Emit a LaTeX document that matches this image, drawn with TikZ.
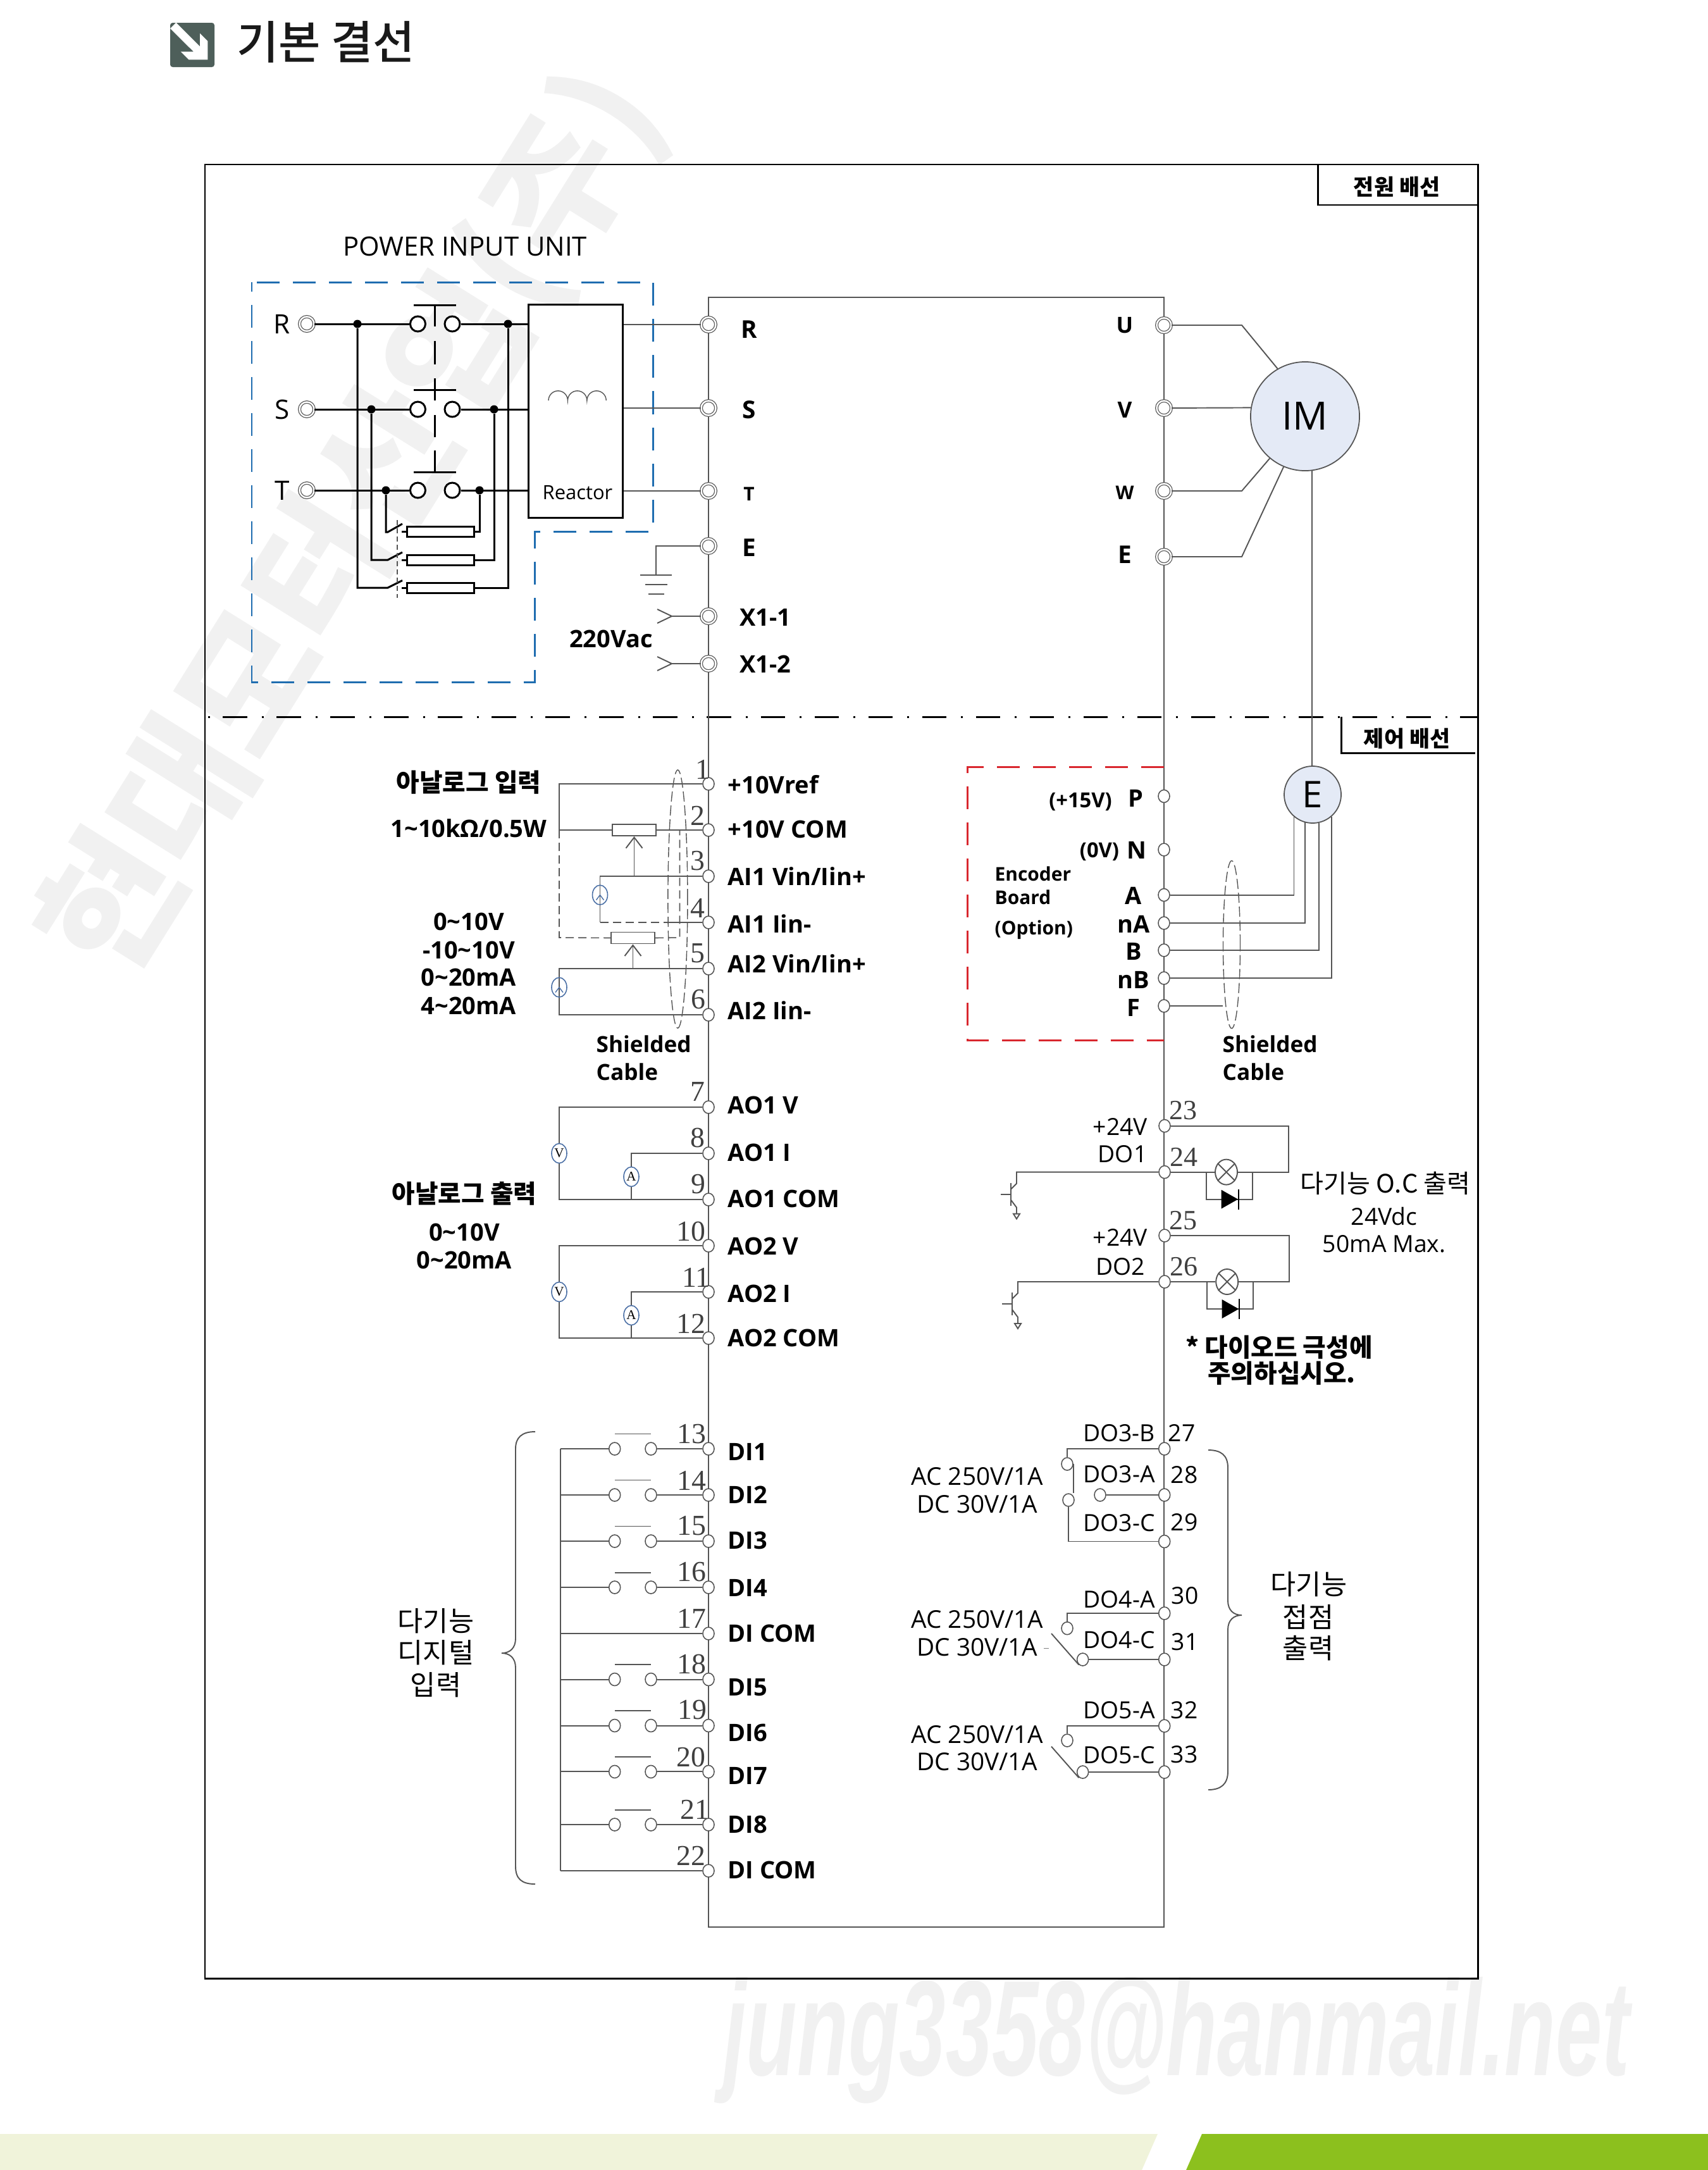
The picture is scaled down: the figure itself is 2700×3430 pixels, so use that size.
\documentclass[tikz,border=0pt]{standalone}
\usepackage{fontspec}
\usepackage{xcolor}
\usepackage{tikz}
\usetikzlibrary{shapes.geometric,arrows.meta}
\setmainfont{Open Sans}
\newfontfamily\kor{Noto Sans CJK KR}
\newfontfamily\korm{Noto Sans CJK KR Medium}
\newfontfamily\numf{Liberation Serif}
\newfontfamily\wmf{Liberation Sans}
\newcommand{\tld}{\textasciitilde}
\definecolor{wirec}{HTML}{555555}
\definecolor{bluel}{HTML}{1F6DB0}
\definecolor{redl}{HTML}{D9272E}
\definecolor{motorc}{HTML}{E4EAF6}
\definecolor{srcc}{HTML}{4A6FA5}
\definecolor{bandl}{HTML}{F0F3DA}
\definecolor{bandg}{HTML}{8CC01E}
\definecolor{iconc}{HTML}{4E5F5A}
\definecolor{wmc}{HTML}{F1F1F1}
\tikzset{
  wire/.style={draw=wirec,line width=.55pt},
  pwr/.style={draw=black,line width=.85pt},
  term/.style={ellipse,draw=wirec,line width=.45pt,fill=white,inner sep=0,minimum width=.18cm,minimum height=.2cm},
  ring/.style={circle,draw=wirec,line width=.35pt,double=white,double distance=.7pt,fill=white,inner sep=0,minimum size=.23cm},
  cnt/.style={ellipse,draw=wirec,line width=.45pt,fill=white,inner sep=0,minimum width=.18cm,minimum height=.2cm},
  swc/.style={circle,draw=black,line width=.85pt,fill=white,inner sep=0,minimum size=.24cm},
  jdot/.style={circle,fill=black,inner sep=0,minimum size=.13cm},
  fuse/.style={rectangle,pwr,fill=white,inner sep=0,minimum width=1.05cm,minimum height=.16cm},
  pot/.style={rectangle,wire,fill=white,inner sep=0,minimum width=.69cm,minimum height=.18cm},
  meter/.style={ellipse,draw=srcc,line width=.45pt,fill=white,inner sep=0,minimum width=.24cm,minimum height=.31cm,font=\numf\fontsize{6}{7}\selectfont},
  source/.style={ellipse,draw=srcc,line width=.45pt,inner sep=0,minimum width=.24cm,minimum height=.31cm},
  shield/.style={ellipse,draw=wirec,line width=.4pt,dash pattern=on .16cm off .06cm,inner sep=0},
  thindash/.style={draw=wirec,line width=.45pt,dash pattern=on .13cm off .07cm},
  lab/.style={font=\bfseries\fontsize{10.8}{12}\selectfont,inner sep=0},
  shlab/.style={font=\bfseries\fontsize{10}{12}\selectfont,inner sep=0},
  smalllab/.style={font=\bfseries\fontsize{8.5}{10}\selectfont,inner sep=0},
  reg/.style={font=\fontsize{10.6}{12}\selectfont,inner sep=0},
  num/.style={font=\numf\fontsize{13}{14}\selectfont,text=black!75,inner sep=0},
  kord/.style={font=\kor\fontsize{12.4}{14}\selectfont,inner sep=0},
  korb/.style={font=\kor\bfseries\fontsize{11.3}{13}\selectfont,inner sep=0},
  zonedash/.style={line width=.85pt,dash pattern=on .36cm off .21cm},
}
\begin{document}
\begin{tikzpicture}[x=.01cm,y=-.01cm]
    \useasboundingbox (0,0) rectangle (2700,3430);

    % Watermarks and footer band
    \node[rotate=58,text=wmc,font=\kor\bfseries\fontsize{64}{74}\selectfont,inner sep=0] (wmark) at (560,830) {현대모터산업(주)};
    \node[xscale=.615,text=wmc,font=\wmf\bfseries\itshape\fontsize{61}{70}\selectfont,inner sep=0] (wmail) at (1860,3225) {jung3358@hanmail.net};
    \fill[bandl] (0,3373) -- (1830,3373) -- (1805,3430) -- (0,3430) -- cycle;
    \fill[bandg] (1900,3373) -- (2700,3373) -- (2700,3430) -- (1875,3430) -- cycle;

    % Title
    \fill[iconc,rounded corners=.04cm] (269,36) rectangle (339,106);
    \fill[white] (269,45) -- (278.3,35.7) -- (316,73.3) -- (316,52.7) -- (328.3,65) -- (328.3,94.3) -- (298.3,94.3) -- (285.7,81.7) -- (306,81.7) -- cycle;
    \node[font=\korm\fontsize{20.5}{23}\selectfont,text=black!90,inner sep=0] (title) at (515,66) {기본 결선};

    % Frame and divider
    \draw[pwr] (324,260) rectangle (2336,3127);
    \draw[pwr] (2083,260) -- (2083,324) -- (2336,324);
    \node[font=\kor\bfseries\fontsize{9.9}{11}\selectfont,inner sep=0] (boxp) at (2208,295) {전원 배선};
    \draw[pwr,dash pattern=on .385cm off .23cm on .03cm off .205cm,dash phase=.57cm] (324,1133) -- (2336,1133);
    \draw[pwr] (2120,1133) -- (2120,1190) -- (2332,1190);
    \node[font=\kor\bfseries\fontsize{9.9}{11}\selectfont,inner sep=0] (boxc) at (2224,1167) {제어 배선};

    % Drive body
    \draw[wire] (1120,470) rectangle (1840,3046);

    % Power input unit
    \node[font=\fontsize{11.9}{14}\selectfont,inner sep=0] (pwrt) at (735,390) {POWER INPUT UNIT};
    \draw[bluel,zonedash] (406,446) -- (1032,446) -- (1032,840) -- (845,840) -- (845,1078) -- (398,1078) -- (398,446);
    \node[rectangle,pwr,inner sep=0,minimum width=1.48cm,minimum height=3.36cm] (reactor) at (910,650) {};
    \node[font=\fontsize{8.8}{10}\selectfont,inner sep=0] (reactl) at (913,779) {Reactor};
    \draw[wire,line width=.4pt] (867,633) arc[start angle=180,end angle=0,radius=.152cm] arc[start angle=180,end angle=0,radius=.152cm] arc[start angle=180,end angle=0,radius=.152cm];

    % Input lines, contactor and branch fuses
    \foreach \n/\y/\a/\b/\yb/\fy/\sy in {R/512/565/803/929/929.5/917.5, S/647/587/781/885/885/873, T/775/610/758/841/840/828}{
        \node[ring] (p\n) at (485,\y) {};
        \node[font=\fontsize{12}{14}\selectfont,inner sep=0] (pl\n) at (446,\y) {\n};
        \node[swc] (sa\n) at (660.5,\y) {};
        \node[swc] (sb\n) at (715,\y) {};
        \node[jdot] (dl\n) at (\a,\y) {};
        \node[jdot] (dr\n) at (\b,\y) {};
        \draw[pwr] (p\n) -- (sa\n);
        \draw[pwr] (sb\n) -- (sb\n -| reactor.west);
        \node[fuse] (fu\n) at (696.5,\fy) {};
        \coordinate (q\n) at (613,\yb);
        \draw[pwr] (dl\n) |- (q\n) -- (636,\sy);
        \draw[pwr] (fu\n.west) -- ++(-7,0);
        \draw[pwr] (fu\n.east) -| (dr\n);
    }
    \draw[draw=wirec,line width=.35pt,dash pattern=on .08cm off .05cm] (628,822) -- (628,945);
    \draw[pwr] (654,482) -- (721,482);
    \draw[pwr] (654,616.5) -- (721,616.5);
    \draw[pwr] (654,746) -- (721,746);
    \draw[pwr] (687.5,482) -- (687.5,516);
    \draw[pwr] (687.5,539) -- (687.5,576);
    \draw[pwr] (687.5,598) -- (687.5,633);
    \draw[pwr] (687.5,656) -- (687.5,691);
    \draw[pwr] (687.5,712) -- (687.5,746);

    % Drive power terminals
    \foreach \n/\y/\ly/\lbl/\sz in {R/513/521/R/11, S/645/648/S/11, T/776/781/T/8.5, E/863/866/E/11}{
        \node[ring] (tp\n) at (1120,\y) {};
        \node[font=\bfseries\fontsize{\sz}{13}\selectfont,inner sep=0] (lp\n) at (1184,\ly) {\lbl};
    }
    \foreach \n/\y/\ly/\lbl in {Xa/974/976/X1-1, Xb/1049/1050/X1-2}{
        \node[ring] (tp\n) at (1120,\y) {};
        \node[lab] (lp\n) at (1210,\ly) {\lbl};
        \coordinate (ch\n) at (1062,\y);
        \draw[wire] (tp\n) -- (ch\n);
        \draw[wire] (ch\n) ++(-23,-11) -- (ch\n) -- ++(-23,11);
    }
    \node[lab] (vac) at (966,1010) {220Vac};
    \foreach \n in {R,S,T}{
        \draw[wire] (tp\n) -- (tp\n -| reactor.east);
    }
    \coordinate (gnd) at (1037,909);
    \draw[wire] (tpE) -| (gnd);
    \draw[wire] (gnd) ++(-25,0) -- ++(50,0);
    \draw[wire] (gnd) ++(-17,15) -- ++(35,0);
    \draw[wire] (gnd) ++(-12,30) -- ++(25,0);

    % Motor
    \node[circle,draw=wirec,line width=.5pt,fill=motorc,inner sep=0,minimum size=1.72cm,font=\fontsize{17.5}{19}\selectfont] (im) at (2063,658) {IM};
    \coordinate (bend) at (1963,0);
    \foreach \n/\y/\ly/\lbl/\sz/\an in {U/514/514/U/10/120, V/645/648/V/10/171, W/776/779/W/8.5/-130, Em/880/877/E/11/-113}{
        \node[ring] (to\n) at (1840,\y) {};
        \node[font=\bfseries\fontsize{\sz}{13}\selectfont,inner sep=0] (lo\n) at (1778,\ly) {\lbl};
    }
    \draw[wire] (toU) -- (toU -| bend) -- (im.120);
    \draw[wire] (toV) -- (im.171);
    \draw[wire] (toW) -- (toW -| bend) -- (im.-130);
    \draw[wire] (toEm) -- (toEm -| bend) -- (im.-113);

    % Left control terminals
    \foreach \n/\y/\ly/\lbl/\nx/\ny in {1/1239/1240/+10Vref/1111/1216, 2/1312/1311/+10V COM/1103/1289, 3/1385/1385/{AI1 Vin/Iin+}/1103/1361, 4/1458/1460/AI1 Iin-/1103/1435, 5/1531/1523/{AI2 Vin/Iin+}/1103/1507, 6/1604/1597/AI2 Iin-/1104/1580, 7/1750/1747/AO1 V/1103/1726, 8/1823/1822/AO1 I/1103/1798, 9/1896/1895/AO1 COM/1104/1872, 10/1969/1970/AO2 V/1092/1946, 11/2042/2045/AO2 I/1100/2019, 12/2115/2115/AO2 COM/1092/2092, 13/2290/2295/DI1/1093/2267, 14/2363/2363/DI2/1093/2340, 15/2436/2435/DI3/1093/2412, 16/2509/2510/DI4/1093/2485, 17/2582/2582/DI COM/1093/2558, 18/2654.5/2667/DI5/1093/2630, 19/2727.5/2739/DI6/1094/2703, 20/2800.4/2807/DI7/1092/2777, 21/2884/2884/DI8/1098/2860, 22/2957/2956/DI COM/1092/2933}{
        \node[term] (t\n) at (1120,\y) {};
        \node[lab,anchor=west] (l\n) at (1150,\ly) {\lbl};
        \node[num] (n\n) at (\nx,\ny) {\n};
    }

    % Analog input wiring
    \coordinate (ailft) at (884,1239);
    \coordinate (aidsh) at (884,1482);
    \coordinate (airgt) at (1074.5,1482);
    \coordinate (aisrc) at (948.5,1385);
    \node[pot] (pota) at (1002.5,1312) {};
    \node[pot] (potb) at (1000.5,1482.5) {};
    \draw[wire] (t1) -- (ailft) |- (pota.west);
    \draw[wire] (pota.east) -- (t2);
    \draw[thindash] (ailft |- pota) -- (aidsh) -- (potb.west);
    \draw[thindash] (potb.east) -- (airgt) -- (airgt |- pota);
    \draw[wire,-{Straight Barb[length=.17cm,width=.26cm]}] (pota |- t3) -- (pota.south);
    \draw[wire,-{Straight Barb[length=.17cm,width=.26cm]}] (potb |- t5) -- (potb.south);
    \draw[wire] (t3) -- (aisrc) -- (aisrc |- t4);
    \draw[thindash] (aisrc |- t4) -- (1060,1458);
    \draw[wire] (1060,1458) -- (t4);
    \node[source] (srca) at (948.5,1414.6) {};
    \draw[srcc,line width=.4pt] (srca.center) ++(-6,8) -- (srca.center) -- ++(6,8);
    \coordinate (ailb) at (884,1531);
    \draw[wire] (t5) -- (ailb) |- (t6);
    \node[source] (srcb) at (884,1560.6) {};
    \draw[srcc,line width=.4pt] (srcb.center) ++(-6,8) -- (srcb.center) -- ++(6,8);
    \node[shield,minimum width=.31cm,minimum height=4.08cm] (shla) at (1071.4,1421) {};

    \node[korb] (ainh) at (741,1237) {아날로그 입력};
    \node[lab] (ainr) at (741,1309) {1\tld 10kΩ/0.5W};
    \node[lab] (aina) at (741,1457) {0\tld 10V};
    \node[lab] (ainb) at (741,1502) {-10\tld 10V};
    \node[lab] (ainc) at (741,1545) {0\tld 20mA};
    \node[lab] (aind) at (741,1590) {4\tld 20mA};
    \node[shlab,anchor=west] (shta) at (942,1650) {Shielded};
    \node[shlab,anchor=west] (shtb) at (942,1694) {Cable};

    % Analog output wiring
    \foreach \v/\i/\c/\a in {7/8/9/1860, 10/11/12/2079}{
        \coordinate (aol\v) at (884,0);
        \coordinate (aom\v) at (998,0);
        \draw[wire] (t\v) -- (t\v -| aol\v) -- (t\c -| aol\v) -- (t\c);
        \draw[wire] (t\i) -- (t\i -| aom\v) -- (t\c -| aom\v);
        \node[meter] (mv\v) at (t\i -| aol\v) {V};
        \node[meter] (ma\v) at (998,\a) {A};
    }
    \node[korb] (aouh) at (734,1887) {아날로그 출력};
    \node[lab] (aoua) at (734,1948) {0\tld 10V};
    \node[lab] (aoub) at (734,1992) {0\tld 20mA};

    % Digital inputs
    \coordinate (dibus) at (886,2290);
    \draw[wire] (dibus) -- (dibus |- t22);
    \draw[wire] (t17) -- (t17 -| dibus);
    \draw[wire] (t22) -- (t22 -| dibus);
    \foreach \n in {13,14,15,16,18,19,20,21}{
        \node[cnt] (sa\n) at (t\n -| 971.7,0) {};
        \node[cnt] (sb\n) at (t\n -| 1029,0) {};
        \draw[wire] (t\n) -- (sb\n);
        \draw[wire] (sa\n) -- (sa\n -| dibus);
        \draw[wire] (sa\n) ++(0,-23.5) -- ++(57.3,0);
    }
    \draw[wire] (846,2263) .. controls (825,2263) and (815,2272) .. (815,2290) -- (815,2590) .. controls (815,2605) and (806,2613) .. (793,2613) .. controls (806,2613) and (815,2621) .. (815,2636) -- (815,2950) .. controls (815,2970) and (825,2978) .. (846,2978);
    \node[kord] (dina) at (689,2562) {다기능};
    \node[kord] (dinb) at (689,2612) {디지털};
    \node[kord] (dinc) at (689,2663) {입력};

    % Encoder board
    \draw[redl,zonedash] (1840,1212) -- (1529,1212) -- (1529,1644) -- (1840,1644);
    \foreach \n/\y/\ly/\lbl/\lx in {P/1258.5/1262/P/1795, N/1343/1344/N/1797, A/1414.6/1416/A/1792, nA/1459/1461/nA/1792, B/1502/1504/B/1792, nB/1546/1549/nB/1792, F/1590/1593/F/1792}{
        \node[term] (t\n) at (1840,\y) {};
        \node[lab] (l\n) at (\lx,\ly) {\lbl};
    }
    \node[font=\bfseries\fontsize{9.3}{11}\selectfont,inner sep=0] (lpv) at (1708,1267) {(+15V)};
    \node[font=\bfseries\fontsize{9.3}{11}\selectfont,inner sep=0] (lnv) at (1738,1346) {(0V)};
    \node[smalllab,anchor=west] (encb) at (1572,1381) {Encoder};
    \node[smalllab,anchor=west] (encc) at (1572,1418) {Board};
    \node[smalllab,anchor=west] (encd) at (1572,1470) {(Option)};
    \node[circle,draw=wirec,line width=.5pt,fill=motorc,inner sep=0,minimum size=.9cm,font=\fontsize{16.5}{18}\selectfont] (enc) at (2075,1256) {E};
    \draw[wire] (im.-83) -- (im.-83 |- enc.north);
    \draw[wire] (tA) -| (enc.-130);
    \draw[wire] (tnA) -| (enc.-105);
    \draw[wire] (tB) -| (enc.-77);
    \draw[wire] (tnB) -| (enc.-50);
    \node[shield,minimum width=.27cm,minimum height=2.65cm] (shlb) at (1947,1493) {};
    \draw[wire] (tF) -- (shlb.west |- tF);
    \node[shlab,anchor=west] (shtc) at (1932,1650) {Shielded};
    \node[shlab,anchor=west] (shtd) at (1932,1694) {Cable};

    % Open collector outputs
    \foreach \v/\o/\vy/\oy/\vly/\oly/\olx/\oname/\qx/\lx/\rx/\vny/\ony in {23/24/1779.6/1852.6/1781/1824.5/1814/DO1/1607/1938.5/2037/1755/1828.5, 25/26/1953/2026/1956/2002/1810.5/DO2/1609/1939.7/2038/1929/2002}{
        \node[term] (t\v) at (1841,\vy) {};
        \node[term] (t\o) at (1841,\oy) {};
        \node[reg,anchor=east] (lv\v) at (1814.5,\vly) {+24V};
        \node[reg,anchor=east] (lo\o) at (\olx,\oly) {\oname};
        \node[num,font=\numf\fontsize{12.5}{14}\selectfont] (n\v) at (1870,\vny) {\v};
        \node[num,font=\numf\fontsize{12.5}{14}\selectfont] (n\o) at (1871,\ony) {\o};
        \node[ellipse,wire,fill=white,inner sep=0,minimum width=.35cm,minimum height=.4cm] (lamp\o) at (\lx,\oy) {};
        \draw[wire] (lamp\o.45) -- (lamp\o.225);
        \draw[wire] (lamp\o.135) -- (lamp\o.-45);
        \coordinate (rg\o) at (\rx,\oy);
        \draw[wire] (t\v) -- (t\v -| rg\o) -- (rg\o) -- (lamp\o);
        \draw[wire] (t\o) -- (lamp\o);
        \coordinate (dl\o) at (\lx-31.5,\oy+43);
        \coordinate (dr\o) at (\lx+41.5,\oy+43);
        \draw[wire] (dl\o |- t\o) -- (dl\o) -- (dr\o) -- (dr\o |- t\o);
        \fill[black] (\lx-8,\oy+28) -- (\lx+18.5,\oy+43) -- (\lx-8,\oy+58) -- cycle;
        \draw[black,line width=.7pt] (\lx+19.5,\oy+27) -- (\lx+19.5,\oy+59);
        % Transistor
        \coordinate (q\o) at (\qx,\oy);
        \draw[wire] (t\o) -- (q\o) -- ++(0,18) -- ++(-9,9);
        \draw[wire] (q\o) ++(-9,17) -- ++(0,36);
        \draw[wire] (q\o) ++(-25,35) -- ++(16,0);
        \draw[wire] (q\o) ++(-9,44) -- ++(9,12) -- ++(0,10);
        \draw[wire] (q\o) ++(-5,66) -- ++(10,0) -- ++(-5,8) -- cycle;
    }
    \node[font=\kor\fontsize{11.4}{13}\selectfont,inner sep=0] (oca) at (2190,1870) {다기능 O.C 출력};
    \node[reg] (ocb) at (2188,1922) {24Vdc};
    \node[reg] (occ) at (2188,1966) {50mA Max.};
    \node[korb] (dioa) at (2022,2130) {* 다이오드 극성에};
    \node[korb] (diob) at (2026,2171) {주의하십시오.};

    % Relay outputs
    \foreach \n/\y/\lbl/\ly/\ny/\nx in {27/2290/DO3-B/2265/2265/1868, 28/2363/DO3-A/2330/2331/1872, 29/2436.5/DO3-C/2407/2406/1872, 30/2550/DO4-A/2528/2522/1873, 31/2623/DO4-C/2592/2595/1873, 32/2728/DO5-A/2703/2703/1872, 33/2801/DO5-C/2774/2773/1872}{
        \node[term] (t\n) at (1840.7,\y) {};
        \node[reg] (l\n) at (1769,\ly) {\lbl};
        \node[reg] (n\n) at (\nx,\ny) {\n};
    }
    \node[cnt] (ca) at (1687,2314) {};
    \node[cnt] (cb) at (1689,2371) {};
    \node[cnt] (cc) at (1739,2363) {};
    \draw[wire] (t27) -| (ca);
    \draw[wire] (ca.east) -- (ca.east |- cb.north);
    \draw[wire] (cb) |- (t29);
    \draw[wire] (t28) -- (cc);
    \foreach \a/\b/\cy/\sy in {30/31/2573.7/2582, 32/33/2751/2760.6}{
        \node[cnt] (cr\a) at (1687,\cy) {};
        \node[cnt] (cr\b) at (t\b -| 1711.6,0) {};
        \draw[wire] (t\a) -| (cr\a);
        \draw[wire] (t\b) -- (cr\b);
        \coordinate (sw\b) at (1662,\sy);
        \draw[wire] (sw\b) -- ++(43.5,49.5);
    }
    \draw[draw=black!50,line width=.4pt] (1650,2605.5) -- (1658,2605.5);
    \foreach \k/\ya/\yb in {a/2334/2378, b/2560/2603.5, c/2742/2785}{
        \node[font=\fontsize{11}{13}\selectfont,inner sep=0] (ac\k) at (1545,\ya) {AC 250V/1A};
        \node[font=\fontsize{11}{13}\selectfont,inner sep=0] (dc\k) at (1545,\yb) {DC 30V/1A};
    }
    \draw[wire] (1910,2292) .. controls (1930,2292) and (1941,2300) .. (1941,2320) -- (1941,2530) .. controls (1941,2545) and (1950,2553) .. (1963,2553) .. controls (1950,2553) and (1941,2561) .. (1941,2576) -- (1941,2800) .. controls (1941,2820) and (1930,2829) .. (1910,2829);
    \node[kord] (roa) at (2069,2504) {다기능};
    \node[kord] (rob) at (2068,2556) {접점};
    \node[kord] (roc) at (2068,2605) {출력};
\end{tikzpicture}
\end{document}
